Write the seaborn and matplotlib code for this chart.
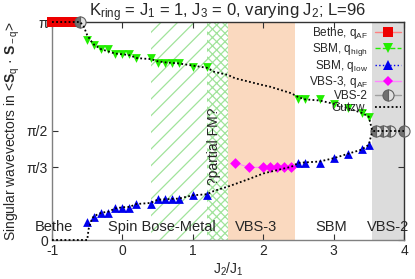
import numpy as np
import pandas as pd
import seaborn as sns
import matplotlib.pyplot as plt
from matplotlib.lines import Line2D

# values in units of pi
bethe_x = [-1.0, -0.9, -0.8, -0.7]
bethe_q = [1.0, 1.0, 1.0, 1.0]

sbm_x = [-0.5, -0.4, -0.3, -0.2, -0.1, 0.0, 0.1, 0.2, 0.4, 0.5, 0.6, 0.7, 0.8, 1.0, 1.2,
         2.5, 2.6, 2.8, 3.0, 3.2, 3.4, 3.5]
sbm_qhigh = [0.917, 0.896, 0.875, 0.875, 0.854, 0.854, 0.854, 0.833, 0.833, 0.8125, 0.8125,
             0.8125, 0.8125, 0.792, 0.792, 0.646, 0.646, 0.646, 0.625, 0.604, 0.583, 0.5625]
sbm_qlow = [0.083, 0.104, 0.125, 0.125, 0.146, 0.146, 0.146, 0.167, 0.167, 0.1875, 0.1875,
            0.1875, 0.1875, 0.208, 0.208, 0.354, 0.354, 0.354, 0.375, 0.396, 0.417, 0.4375]

vbs3_x = [1.6, 1.8, 2.0, 2.1, 2.2, 2.3, 2.4]
vbs3_q = [0.354, 0.333, 0.333, 0.333, 0.333, 0.333, 0.333]

vbs2_x = [-0.6, 3.6, 3.7, 3.8, 4.0]
vbs2_q = [1.0, 0.5, 0.5, 0.5, 0.5]

gutz_up_x = [-1.0, -0.6, -0.55, -0.5, -0.45, -0.4, -0.3, -0.2, -0.1, 0.0, 0.1, 0.2, 0.3, 0.4,
             0.5, 0.6, 0.8, 1.0, 1.2, 1.3, 1.5, 1.6, 1.8, 2.0, 2.1, 2.4, 2.5, 2.6, 2.8, 3.0,
             3.2, 3.4, 3.5, 3.55, 4.0]
gutz_up_q = [1.0, 1.0, 0.98, 0.94, 0.915, 0.895, 0.875, 0.865, 0.855, 0.852, 0.848, 0.835,
             0.832, 0.83, 0.82, 0.815, 0.81, 0.80, 0.79, 0.772, 0.757, 0.742, 0.726, 0.71,
             0.703, 0.673, 0.655, 0.645, 0.64, 0.625, 0.605, 0.583, 0.565, 0.5, 0.5]
gutz_lo_x = [-1.0, -0.5, -0.48, -0.43, -0.4, -0.3, -0.2, -0.1, 0.0, 0.1, 0.2, 0.4, 0.5, 0.8,
             1.0, 1.2, 1.3, 1.5, 1.8, 2.0, 2.1, 2.4, 2.5, 2.8, 3.0, 3.2, 3.4, 3.5, 3.55]
gutz_lo_q = [0.0, 0.0, 0.05, 0.1, 0.11, 0.125, 0.13, 0.145, 0.15, 0.152, 0.165, 0.17, 0.185,
             0.19, 0.205, 0.21, 0.225, 0.245, 0.28, 0.305, 0.313, 0.336, 0.354, 0.36, 0.375,
             0.395, 0.415, 0.437, 0.5]

phase_names = ["Bethe", "Spin Bose-Metal", "VBS-3", "SBM", "VBS-2"]
phase_pos = [-0.97, 0.56, 1.905, 2.97, 3.77]

sns.set_theme(style="ticks")
plt.rcParams['font.family'] = ['Liberation Sans', 'DejaVu Sans']
plt.rcParams['mathtext.fontset'] = 'custom'
plt.rcParams['mathtext.rm'] = 'Liberation Sans'
plt.rcParams['mathtext.it'] = 'Liberation Sans:italic'
plt.rcParams['mathtext.bf'] = 'Liberation Sans:bold'
plt.rcParams['hatch.linewidth'] = 0.9

fig = plt.figure(figsize=(4.15, 2.79), dpi=100)
ax = fig.add_axes([52/415, 1-240/279, 352/415, 218/279])

pi = np.pi
# phase regions
ax.axvspan(0.4, 1.2, facecolor='none', edgecolor='#a0e39a', hatch='//', linewidth=0, zorder=0)
ax.axvspan(1.2, 1.5, facecolor='none', edgecolor='#a0e39a', hatch='xxxx', linewidth=0, zorder=0)
ax.axvspan(1.5, 2.45, facecolor='#fad9bf', edgecolor='none', zorder=0)
ax.axvspan(3.55, 4.0, facecolor='#dcdcdc', edgecolor='none', zorder=0)

bethe = pd.DataFrame({"x": bethe_x, "q": np.array(bethe_q)*pi})
sbm = pd.DataFrame({"x": sbm_x, "hi": np.array(sbm_qhigh)*pi, "lo": np.array(sbm_qlow)*pi})
vbs3 = pd.DataFrame({"x": vbs3_x, "q": np.array(vbs3_q)*pi})
vbs2 = pd.DataFrame({"x": vbs2_x, "q": np.array(vbs2_q)*pi})
gup = pd.DataFrame({"x": gutz_up_x, "q": np.array(gutz_up_q)*pi})
glo = pd.DataFrame({"x": gutz_lo_x, "q": np.array(gutz_lo_q)*pi})

sns.scatterplot(data=bethe, x="x", y="q", marker='s', s=55, color='#ee0000', linewidth=0,
                ax=ax, zorder=3, clip_on=False)
sns.scatterplot(data=sbm, x="x", y="hi", marker='v', s=40, color='#22ee00', linewidth=0,
                ax=ax, zorder=3)
sns.scatterplot(data=sbm, x="x", y="lo", marker='^', s=40, color='#0000ee', linewidth=0,
                ax=ax, zorder=3)
sns.lineplot(data=vbs3, x="x", y="q", color='#ff88ff', linewidth=0.8, ax=ax, zorder=3)
sns.scatterplot(data=vbs3, x="x", y="q", marker='D', s=30, color='#ff00ff', linewidth=0,
                ax=ax, zorder=3)
sns.lineplot(data=vbs2, x="x", y="q", marker='o', linestyle='none', markersize=8,
             color='#707070', fillstyle='left', markerfacecoloralt='#e0e0e0',
             markeredgecolor='#606060', markeredgewidth=0.8, ax=ax, zorder=4, clip_on=False)
for g in [gup, glo]:
    sns.lineplot(data=g, x="x", y="q", color='black', linestyle=(0, (1, 1.3)), linewidth=1.3,
                 estimator=None, sort=False, ax=ax, zorder=5, clip_on=False)

for name, xp in zip(phase_names, phase_pos):
    ax.text(xp, 0.06*pi, name, ha='center', va='center', fontsize=10.5, zorder=6)
ax.text(1.3, 0.43*pi, "?partial FM?", rotation=90, ha='center', va='center', fontsize=10, zorder=6)

ax.set_xlim(-1, 4)
ax.set_ylim(0, pi)
ax.set_xticks([-1, 0, 1, 2, 3, 4])
ax.set_xticklabels(["-1", "0", "1", "2", "3", "4"])
ax.set_yticks([0, pi/3, pi/2, pi])
ax.set_yticklabels(["0", "π/3", "π/2", "π"])
ax.tick_params(direction='in', length=4, width=0.8, top=True, right=True, labelsize=10,
               pad=3, color='#333333')
for s in ['left', 'bottom']:
    ax.spines[s].set_color('#808080')
for s in ['top', 'right']:
    ax.spines[s].set_color('#333333')
for s in ax.spines:
    ax.spines[s].set_linewidth(1.0)

ax.set_xlabel(r"J$_2$/J$_1$", fontsize=10, labelpad=2)
ax.set_ylabel(r"Singular wavevectors in <$\mathbf{S}_{\rm q}$ · $\mathbf{S}_{\rm -q}$>",
              fontsize=10, labelpad=3)
ax.set_title(r"K$_{\rm ring}$ = J$_1$ = 1, J$_3$ = 0, varying J$_2$; L=96", fontsize=12, pad=4)

handles = [
    Line2D([], [], color='#ff8080', marker='s', markerfacecolor='#ee0000', markeredgewidth=0, markersize=7, lw=1),
    Line2D([], [], color='#22ee00', marker='v', ls='--', markersize=7, markeredgewidth=0, lw=1),
    Line2D([], [], color='#0000ee', marker='^', ls=':', markersize=7, markeredgewidth=0, lw=1),
    Line2D([], [], color='#ff88ff', marker='D', markerfacecolor='#ff00ff', markersize=5.5, markeredgewidth=0, lw=1),
    Line2D([], [], color='#a0a0a0', marker='o', markersize=8, fillstyle='left', markerfacecolor='#707070',
           markerfacecoloralt='#e0e0e0', markeredgecolor='#606060', markeredgewidth=0.8, lw=1),
    Line2D([], [], color='black', ls=(0, (1, 1.3)), lw=1.3),
]
labels = [r"Bethe, q$_{\rm AF}$", r"SBM, q$_{\rm high}$", r"SBM, q$_{\rm low}$",
          r"VBS-3, q$_{\rm AF}$", "VBS-2", "Gutzw."]
leg = ax.legend(handles, labels, loc='upper right', bbox_to_anchor=(1.0, 1.0), frameon=False,
                markerfirst=False, fontsize=8.5, labelspacing=0.0, handlelength=2.2,
                handletextpad=0.6, borderpad=0.0, borderaxespad=0.25)
for t in leg.get_texts():
    t.set_ha('right')

fig.savefig("out.png", dpi=100)
